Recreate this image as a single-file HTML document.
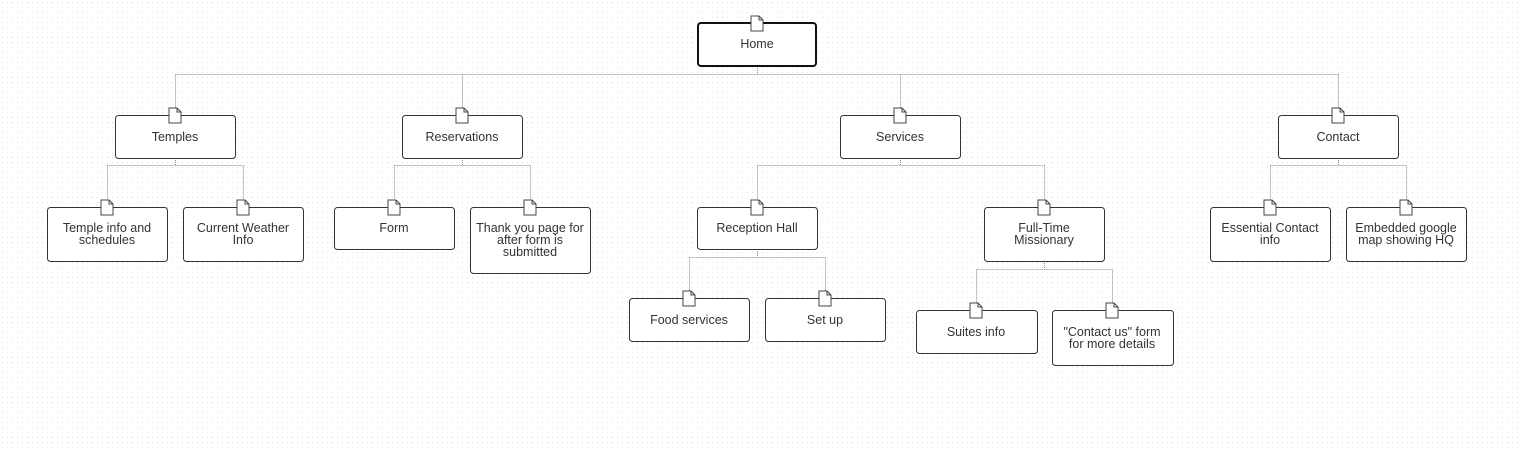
<!DOCTYPE html>
<html><head><meta charset="utf-8"><style>
html,body{margin:0;padding:0;background:#fff;}
svg{display:block;}
text{font-family:"Liberation Sans",sans-serif;font-size:12.5px;fill:#333;text-anchor:middle;}
</style></head><body>
<svg width="1522" height="451" viewBox="0 0 1522 451" xmlns="http://www.w3.org/2000/svg">
<defs>
<pattern id="g" width="5" height="5" patternUnits="userSpaceOnUse"><rect x="2" y="2" width="1" height="1" fill="#e2e2e2"/></pattern>
<g id="ic"><path d="M-6,0 L2,0 L6,4 L6,15 L-6,15 Z" fill="#fff" stroke="#444" stroke-width="1"/><path d="M2,0 L2,4 L6,4" fill="none" stroke="#444" stroke-width="1"/></g>
</defs>
<rect width="1522" height="451" fill="url(#g)"/>
<g fill="none" stroke="#888" stroke-width="1" stroke-dasharray="1,1">
<path d="M757.5,66 V74.5 M175.5,74.5 H1338.5 M175.5,74.5 V115 M462.5,74.5 V115 M900.5,74.5 V115 M1338.5,74.5 V115"/>
<path d="M175.5,158 V165.5 M107.5,165.5 H243.5 M107.5,165.5 V207 M243.5,165.5 V207"/>
<path d="M462.5,158 V165.5 M394.5,165.5 H530.5 M394.5,165.5 V207 M530.5,165.5 V207"/>
<path d="M900.5,158 V165.5 M757.5,165.5 H1044.5 M757.5,165.5 V207 M1044.5,165.5 V207"/>
<path d="M1338.5,158 V165.5 M1270.5,165.5 H1406.5 M1270.5,165.5 V207 M1406.5,165.5 V207"/>
<path d="M757.5,249 V257.5 M689.5,257.5 H825.5 M689.5,257.5 V298 M825.5,257.5 V298"/>
<path d="M1044.5,261 V269.5 M976.5,269.5 H1112.5 M976.5,269.5 V310 M1112.5,269.5 V310"/>
</g>
<g fill="#fff" stroke="#333" stroke-width="1">
<rect x="115.5" y="115.5" width="120" height="43" rx="3"/>
<rect x="402.5" y="115.5" width="120" height="43" rx="3"/>
<rect x="840.5" y="115.5" width="120" height="43" rx="3"/>
<rect x="1278.5" y="115.5" width="120" height="43" rx="3"/>
<rect x="47.5" y="207.5" width="120" height="54" rx="3"/>
<rect x="183.5" y="207.5" width="120" height="54" rx="3"/>
<rect x="334.5" y="207.5" width="120" height="42" rx="3"/>
<rect x="470.5" y="207.5" width="120" height="66" rx="3"/>
<rect x="697.5" y="207.5" width="120" height="42" rx="3"/>
<rect x="984.5" y="207.5" width="120" height="54" rx="3"/>
<rect x="1210.5" y="207.5" width="120" height="54" rx="3"/>
<rect x="1346.5" y="207.5" width="120" height="54" rx="3"/>
<rect x="629.5" y="298.5" width="120" height="43" rx="3"/>
<rect x="765.5" y="298.5" width="120" height="43" rx="3"/>
<rect x="916.5" y="310.5" width="121" height="43" rx="3"/>
<rect x="1052.5" y="310.5" width="121" height="55" rx="3"/>
</g>
<rect x="698" y="23" width="118" height="43" rx="3" fill="#fff" stroke="#111" stroke-width="2"/>
<use href="#ic" x="757" y="16"/>
<use href="#ic" x="175" y="108"/><use href="#ic" x="462" y="108"/><use href="#ic" x="900" y="108"/><use href="#ic" x="1338" y="108"/>
<use href="#ic" x="107" y="200"/><use href="#ic" x="243" y="200"/><use href="#ic" x="394" y="200"/><use href="#ic" x="530" y="200"/>
<use href="#ic" x="757" y="200"/><use href="#ic" x="1044" y="200"/><use href="#ic" x="1270" y="200"/><use href="#ic" x="1406" y="200"/>
<use href="#ic" x="689" y="291"/><use href="#ic" x="825" y="291"/><use href="#ic" x="976" y="303"/><use href="#ic" x="1112" y="303"/>
<text x="757" y="48">Home</text>
<text x="175" y="141">Temples</text>
<text x="462" y="141">Reservations</text>
<text x="900" y="141">Services</text>
<text x="1338" y="141">Contact</text>
<text x="107" y="232">Temple info and</text><text x="107" y="244">schedules</text>
<text x="243" y="232">Current Weather</text><text x="243" y="244">Info</text>
<text x="394" y="232">Form</text>
<text x="530" y="232">Thank you page for</text><text x="530" y="244">after form is</text><text x="530" y="256">submitted</text>
<text x="757" y="232">Reception Hall</text>
<text x="1044" y="232">Full-Time</text><text x="1044" y="244">Missionary</text>
<text x="1270" y="232">Essential Contact</text><text x="1270" y="244">info</text>
<text x="1406" y="232">Embedded google</text><text x="1406" y="244">map showing HQ</text>
<text x="689" y="324">Food services</text>
<text x="825" y="324">Set up</text>
<text x="976" y="336">Suites info</text>
<text x="1112" y="336">"Contact us" form</text><text x="1112" y="348">for more details</text>
</svg>
</body></html>
